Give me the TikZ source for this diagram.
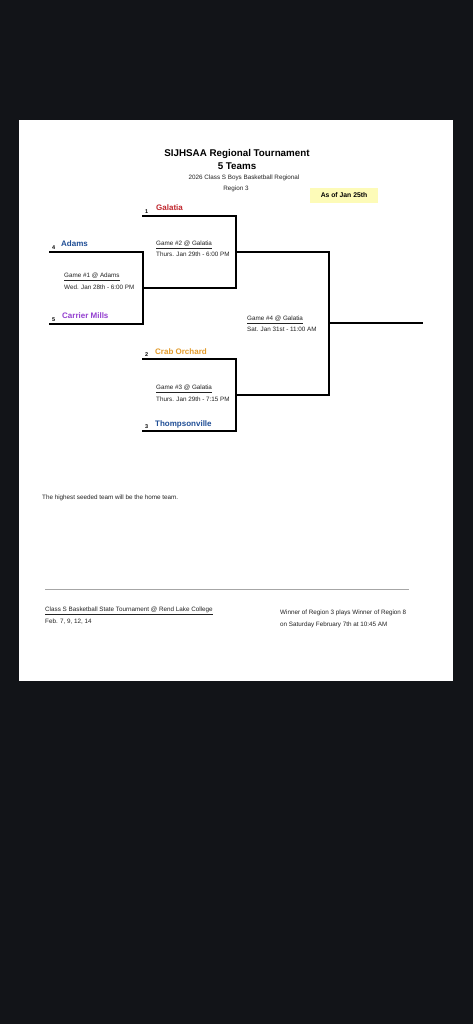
\documentclass[tikz,border=0pt]{standalone}
\usepackage{fontspec}
\setmainfont{Liberation Sans}
\definecolor{bgdark}{HTML}{121418}
\definecolor{galred}{HTML}{C0262D}
\definecolor{teamblue}{HTML}{1F4E96}
\definecolor{cmpurple}{HTML}{9440D0}
\definecolor{corange}{HTML}{E39B2A}
\definecolor{noteyellow}{HTML}{FDFBB8}
\definecolor{txt}{HTML}{222222}
\newcommand{\ulab}[1]{\underline{#1}}
\begin{document}
\begin{tikzpicture}[x=1pt,y=-1pt,
  br/.style={line width=1.7pt,black,line cap=rect},
  team/.style={anchor=base west,inner sep=0,font=\fontsize{8}{9}\selectfont\bfseries},
  seed/.style={anchor=base west,inner sep=0,font=\fontsize{5.5}{6}\selectfont\bfseries},
  small/.style={anchor=base west,inner sep=0,text=txt,font=\fontsize{6.3}{7}\selectfont},
  csmall/.style={anchor=base,inner sep=0,text=txt,font=\fontsize{6.3}{7}\selectfont}]
\useasboundingbox[fill=bgdark] (0,0) rectangle (473,1024);
\fill[white] (19,120) rectangle (453,681);
% title
\node[anchor=base,inner sep=0,font=\fontsize{9.8}{11}\selectfont\bfseries] (t1) at (237,157) {SIJHSAA Regional Tournament};
\node[anchor=base,inner sep=0,font=\fontsize{9.8}{11}\selectfont\bfseries] (t2) at (237,170) {5 Teams};
\node[csmall] (t3) at (244,179.5) {2026 Class S Boys Basketball Regional};
\node[csmall] (t4) at (236,190.5) {Region 3};
\node[fill=noteyellow,minimum width=68pt,minimum height=15pt,inner sep=0,font=\fontsize{6.8}{8}\selectfont\bfseries] (asof) at (344,195.5) {As of Jan 25th};
% bracket coordinates
\coordinate (a1) at (50,252); \coordinate (a2) at (143,252);
\coordinate (a3) at (143,324); \coordinate (a4) at (50,324);
\coordinate (b1) at (143,216); \coordinate (b2) at (236,216);
\coordinate (b3) at (236,288); \coordinate (b4) at (143,288);
\coordinate (c1) at (143,359); \coordinate (c2) at (236,359);
\coordinate (c3) at (236,431); \coordinate (c4) at (143,431);
\coordinate (d1) at (236,252); \coordinate (d2) at (329,252);
\coordinate (d3) at (329,395); \coordinate (d4) at (236,395);
\coordinate (e1) at (329,323); \coordinate (e2) at (422,323);
\draw[br] (a1) -- (a2) -- (a3) -- (a4);
\draw[br] (b1) -- (b2) -- (b3) -- (b4);
\draw[br] (c1) -- (c2) -- (c3) -- (c4);
\draw[br] (d1) -- (d2) -- (d3) -- (d4);
\draw[br] (e1) -- (e2);
% teams
\node[seed] (s1) at (145,213.5) {1};
\node[team,text=galred] (galatia) at (156,210.5) {Galatia};
\node[seed] (s4) at (52,249.5) {4};
\node[team,text=teamblue] (adams) at (61,246.5) {Adams};
\node[seed] (s5) at (52,321.5) {5};
\node[team,text=cmpurple] (carrier) at (62,318.5) {Carrier Mills};
\node[seed] (s2) at (145,356.5) {2};
\node[team,text=corange] (crab) at (155,354.5) {Crab Orchard};
\node[seed] (s3) at (145,428.5) {3};
\node[team,text=teamblue] (thomp) at (155,426.5) {Thompsonville};
% games
\node[small] (g1) at (64,277.5) {\ulab{Game \#1 @ Adams}};
\node[small] (g1t) at (64,289.5) {Wed. Jan 28th - 6:00 PM};
\node[small] (g2) at (156,245.5) {\ulab{Game \#2 @ Galatia}};
\node[small] (g2t) at (156,256.5) {Thurs. Jan 29th - 6:00 PM};
\node[small] (g3) at (156,389.5) {\ulab{Game \#3 @ Galatia}};
\node[small] (g3t) at (156,401.5) {Thurs. Jan 29th - 7:15 PM};
\node[small] (g4) at (247,320.5) {\ulab{Game \#4 @ Galatia}};
\node[small] (g4t) at (247,331.5) {Sat. Jan 31st - 11:00 AM};
% notes
\node[small] (home) at (42,499.5) {The highest seeded team will be the home team.};
\coordinate (hl1) at (45,589); \coordinate (hl2) at (409,589);
\draw[gray!70,line width=0.8pt] (hl1) -- (hl2);
\node[small] (state) at (45,611.5) {\ulab{Class S Basketball State Tournament @ Rend Lake College}};
\node[small] (feb) at (45,623.5) {Feb. 7, 9, 12, 14};
\node[small] (win1) at (280,614.5) {Winner of Region 3 plays Winner of Region 8};
\node[small] (win2) at (280,626.5) {on Saturday February 7th at 10:45 AM};
\end{tikzpicture}
\end{document}
